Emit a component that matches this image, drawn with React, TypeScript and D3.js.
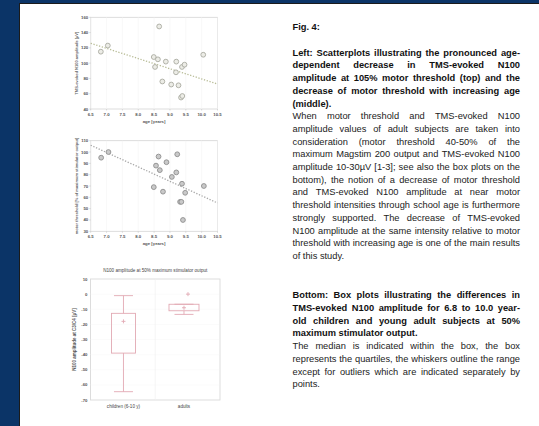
import React, { useEffect, useRef } from 'react';
import * as d3 from 'd3';

const W = 539, H = 426;
const FONT = 'Liberation Sans, Arial, sans-serif';

const ageTicks = [6.5, 7.0, 7.5, 8.0, 8.5, 9.0, 9.5, 10.0, 10.5];

// top scatter: TMS-evoked N100 amplitude at 105% motor threshold
const n100Age = [6.82, 7.04, 8.66, 8.49, 8.62, 8.53, 8.87, 8.76, 9.04, 9.2, 9.19, 9.27, 9.38, 9.46, 9.35, 9.39, 10.05];
const n100Amp = [115, 123, 148, 108, 105, 95, 102, 76, 72, 102, 88, 71, 95, 98, 55, 57, 111];
const n100Ticks = [40, 60, 80, 100, 120, 140, 160];
const n100Fit = [126, 72.7]; // regression line at 6.5 and 10.5 years

// middle scatter: motor threshold
const mtAge = [6.83, 7.06, 8.64, 8.56, 8.89, 8.68, 9.23, 9.06, 9.2, 8.49, 8.78, 9.38, 9.48, 9.32, 9.36, 9.41, 10.07];
const mtValue = [95, 100, 96, 88, 91, 84, 98, 78, 82, 69, 65, 72, 64, 56, 56, 40, 70];
const mtTicks = [30, 40, 50, 60, 70, 80, 90, 100, 110];
const mtFit = [106, 55];

// bottom box plots
const groups = ['children (6-10 y)', 'adults'];
const whiskerLow = [-64.5, -13.4];
const q1 = [-39, -11];
const q3 = [-12.7, -6.7];
const whiskerHigh = [-1, -6.7];
const medians = [-18, -9];
const outliers = [[], [0]];
const boxTicks = [-70, -60, -50, -40, -30, -20, -10, 0, 10];

const captionTop = [
  'Left: Scatterplots illustrating the pronounced age-',
  'dependent decrease in TMS-evoked N100',
  'amplitude at 105% motor threshold (top) and the',
  'decrease of motor threshold with increasing age',
  '(middle).',
];
const textTop = [
  'When motor threshold and TMS-evoked N100',
  'amplitude values of adult subjects are taken into',
  'consideration (motor threshold 40-50% of the',
  'maximum Magstim 200 output and TMS-evoked N100',
  'amplitude 10-30µV [1-3]; see also the box plots on the',
  'bottom), the notion of a decrease of motor threshold',
  'and TMS-evoked N100 amplitude at near motor',
  'threshold intensities through school age is furthermore',
  'strongly supported. The decrease of TMS-evoked',
  'N100 amplitude at the same intensity relative to motor',
  'threshold with increasing age is one of the main results',
  'of this study.',
];
const captionBottom = [
  'Bottom: Box plots illustrating the differences in',
  'TMS-evoked N100 amplitude for 6.8 to 10.0 year-',
  'old children and young adult subjects at 50%',
  'maximum stimulator output.',
];
const textBottom = [
  'The median is indicated within the box, the box',
  'represents the quartiles, the whiskers outline the range',
  'except for outliers which are indicated separately by',
  'points.',
];

const Scatter = ({ ages, values, ticks, fit, top, bottom, yTitle, dot, dotFill, lineColor }) => {
  const x = d3.scaleLinear().domain([6.5, 10.5]).range([90.7, 217.5]);
  const y = d3.scaleLinear().domain([ticks[0], ticks[ticks.length - 1]]).range([bottom, top]);
  const line = d3.line<number>().x((d, i) => x(i === 0 ? 6.5 : 10.5)).y(d => y(d));
  return (
    <g fontFamily={FONT}>
      <rect x={x(6.5)} y={top} width={x(10.5) - x(6.5)} height={bottom - top} fill="#fff" stroke="#d4d4d4" strokeWidth={0.8} />
      {ageTicks.map(t => (
        <g key={t}>
          <line x1={x(t)} x2={x(t)} y1={top} y2={bottom} stroke="#f3f3f3" strokeWidth={0.6} />
          <line x1={x(t)} x2={x(t)} y1={bottom} y2={bottom + 1.5} stroke="#bbb" strokeWidth={0.5} />
          <text x={x(t)} y={bottom + 7} fontSize={4.3} fontWeight="bold" fill="#555" textAnchor="middle">{t.toFixed(1)}</text>
        </g>
      ))}
      {ticks.map(t => (
        <g key={t}>
          <line x1={x(6.5) - 1.5} x2={x(6.5)} y1={y(t)} y2={y(t)} stroke="#bbb" strokeWidth={0.5} />
          <text x={x(6.5) - 2.5} y={y(t) + 1.5} fontSize={4.3} fontWeight="bold" fill="#555" textAnchor="end">{t}</text>
        </g>
      ))}
      <text x={(x(6.5) + x(10.5)) / 2} y={bottom + 13.5} fontSize={4.3} fontWeight="bold" fill="#555" textAnchor="middle">age [years]</text>
      <text transform={`translate(78,${(top + bottom) / 2}) rotate(-90)`} fontSize={4} fontWeight="bold" fill="#666" textAnchor="middle">{yTitle}</text>
      <path d={line(fit) || ''} fill="none" stroke={lineColor} strokeWidth={1.3} strokeDasharray="1.3,1.6" />
      {ages.map((a, i) => (
        <circle key={i} cx={x(a)} cy={y(values[i])} r={2.4} fill={dotFill} stroke={dot} strokeWidth={0.9} />
      ))}
    </g>
  );
};

const BoxPlot = () => {
  const top = 279, bottom = 400, left = 90.5, right = 220;
  const y = d3.scaleLinear().domain([-70, 10]).range([bottom, top]);
  const x = d3.scalePoint<string>().domain(groups).range([left, right]).padding(0.57).align(0.478);
  const pink = '#e2a9b3';
  const boxW = [24, 30], cap = 9.5;
  return (
    <g fontFamily={FONT}>
      <text x={(left + right) / 2} y={271.5} fontSize={4.6} fill="#444" textAnchor="middle">N100 amplitude at 50% maximum stimulator output</text>
      <rect x={left} y={top} width={right - left} height={bottom - top} fill="#fff" stroke="#d4d4d4" strokeWidth={0.8} />
      {boxTicks.map(t => (
        <g key={t}>
          <line x1={left} x2={right} y1={y(t)} y2={y(t)} stroke="#f2f2f2" strokeWidth={0.6} strokeDasharray="1,1" />
          <text x={left - 3} y={y(t) + 1.5} fontSize={4.3} fontWeight="bold" fill="#555" textAnchor="end">{t}</text>
        </g>
      ))}
      <line x1={(left + right) / 2} x2={(left + right) / 2} y1={top} y2={bottom} stroke="#f0f0f0" strokeWidth={0.6} />
      <text transform={`translate(76,${(top + bottom) / 2}) rotate(-90)`} fontSize={4.5} fontWeight="bold" fill="#555" textAnchor="middle">N100 amplitude at C3/C4 [µV]</text>
      {groups.map((g, i) => {
        const cx = x(g) as number;
        return (
          <g key={g} stroke={pink} strokeWidth={0.9} fill="none">
            <line x1={cx} x2={cx} y1={y(whiskerHigh[i])} y2={y(q3[i])} />
            <line x1={cx} x2={cx} y1={y(q1[i])} y2={y(whiskerLow[i])} />
            <line x1={cx - cap} x2={cx + cap} y1={y(whiskerHigh[i])} y2={y(whiskerHigh[i])} />
            <line x1={cx - cap} x2={cx + cap} y1={y(whiskerLow[i])} y2={y(whiskerLow[i])} />
            <rect x={cx - boxW[i] / 2} y={y(q3[i])} width={boxW[i]} height={y(q1[i]) - y(q3[i])} />
            <path d={`M${cx - 2},${y(medians[i])}h4M${cx},${y(medians[i]) - 2}v4`} />
            {outliers[i].map((o, j) => (
              <path key={j} d={`M${cx + 2},${y(o)}h4M${cx + 4},${y(o) - 2}v4`} />
            ))}
            <text x={cx} y={407.5} fontSize={4.6} fill="#444" stroke="none" textAnchor="middle">{g}</text>
          </g>
        );
      })}
    </g>
  );
};

const Caption = () => {
  const ref = useRef<SVGGElement>(null);
  useEffect(() => {
    const g = d3.select(ref.current);
    g.selectAll('*').remove();
    const x0 = 292.5, width = 227.5, fs = 9.3, lh = 12.7;
    const lay = (lines: string[], y0: number, bold: boolean) => {
      lines.forEach((ln, li) => {
        const last = li === lines.length - 1;
        const words = ln.split(' ');
        const t = g.append('text')
          .attr('y', y0 + li * lh)
          .attr('font-size', fs)
          .attr('font-family', FONT)
          .attr('font-weight', bold ? 'bold' : 'normal')
          .attr('fill', bold ? '#111' : '#222');
        const spans = words.map(w => t.append('tspan').text(w));
        const widths = spans.map(s => (s.node() as SVGTSpanElement).getComputedTextLength());
        const sum = d3.sum(widths);
        let gap = fs * 0.278;
        if (!last && words.length > 1) gap = Math.max((width - sum) / (words.length - 1), 1.2);
        let cx = x0;
        spans.forEach((s, i) => {
          s.attr('x', cx);
          cx += widths[i] + gap;
        });
      });
    };
    g.append('text').attr('x', x0).attr('y', 30.3).attr('font-size', fs).attr('font-family', FONT)
      .attr('font-weight', 'bold').attr('fill', '#111').text('Fig. 4:');
    lay(captionTop, 55.7, true);
    lay(textTop, 55.7 + 5 * lh, false);
    lay(captionBottom, 298.3, true);
    lay(textBottom, 298.3 + 4 * lh, false);
  }, []);
  return <g ref={ref} />;
};

export default function App() {
  return (
    <svg width={W} height={H} style={{ position: 'absolute', left: 0, top: 0 }}>
      <rect x={0} y={0} width={W} height={H} fill="#0b3467" />
      <rect x={19.5} y={3.5} width={W} height={H} fill="#fff" stroke="#1b1b1b" strokeWidth={1} />
      <Scatter ages={n100Age} values={n100Amp} ticks={n100Ticks} fit={n100Fit} top={17.3} bottom={109}
        yTitle="TMS-evoked N100 amplitude [µV]" dot="#a9aaa0" dotFill="#ecece6" lineColor="#b9bd98" />
      <Scatter ages={mtAge} values={mtValue} ticks={mtTicks} fit={mtFit} top={140.7} bottom={231.3}
        yTitle="motor threshold [% of maximum stimulator output]" dot="#8d8d8d" dotFill="#c9c9c9" lineColor="#a8a8a8" />
      <BoxPlot />
      <Caption />
    </svg>
  );
}
